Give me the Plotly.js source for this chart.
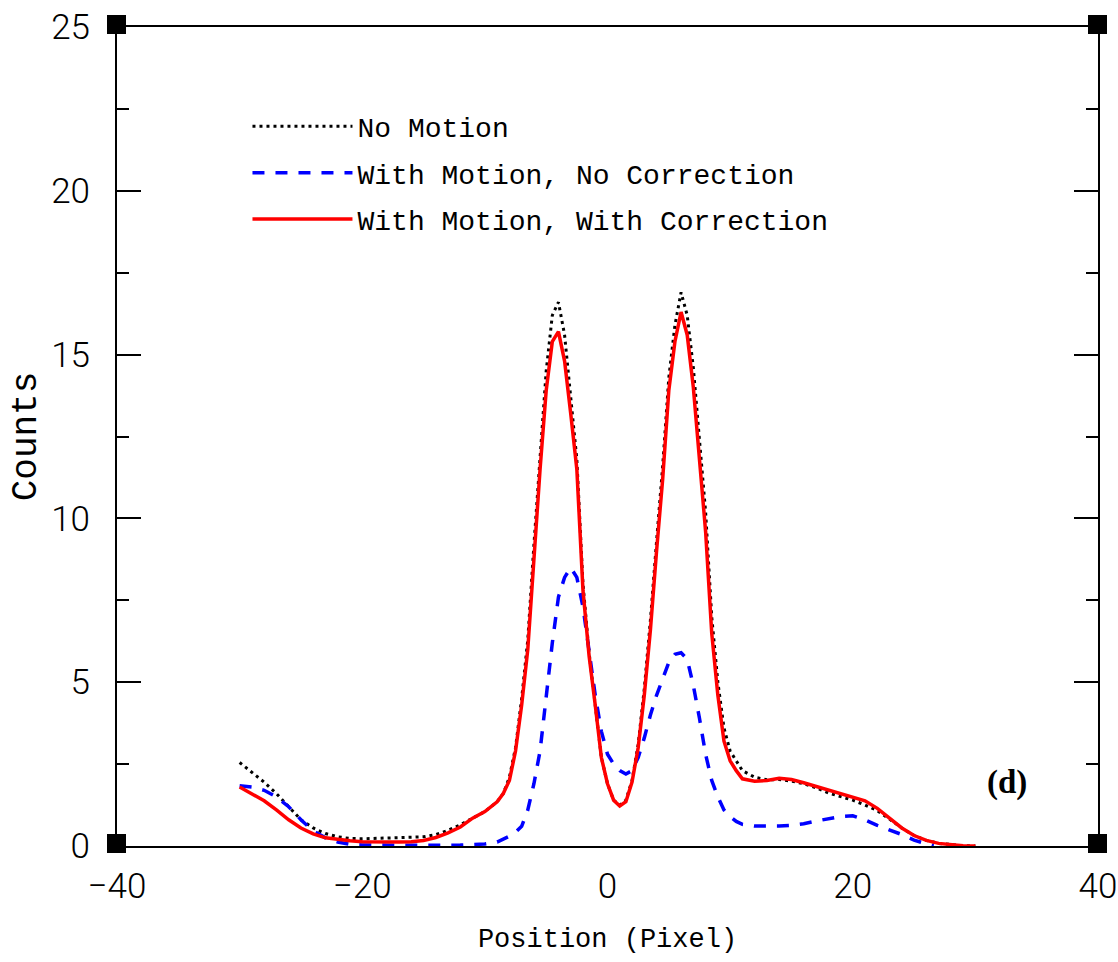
<!DOCTYPE html>
<html>
<head>
<meta charset="utf-8">
<script src="https://cdn.plot.ly/plotly-3.0.1.min.js"></script>
<style>
  html, body { margin: 0; padding: 0; background: #fff; }
  #chart { width: 1118px; height: 962px; }
</style>
</head>
<body>
<div id="chart"></div>
<script>
// ---- Data ----
const seriesNames = ["No Motion", "With Motion, No Correction", "With Motion, With Correction"];

const posMain = [-30,-29,-28,-27,-26,-25,-24,-23,-22,-21,-20,-19,-18,-17,-16,-15,-14,-13,-12,-11,-10,-9,-8.5,-8,-7.5,-7,-6.5,-6,-5.5,-5,-4.5,-4,-3.5,-3,-2.5,-2,-1.5,-1,-0.5,0,0.5,1,1.5,2,2.5,3,3.5,4,4.5,5,5.5,6,6.5,7,7.5,8,8.5,9,9.5,10,10.5,11,12,13,14,15,16,17,18,19,20,21,22,23,24,25,26,27,28,29,30];

const countsNoMotion = [2.55,2.25,1.95,1.6,1.2,0.8,0.55,0.38,0.28,0.23,0.22,0.23,0.24,0.25,0.26,0.28,0.35,0.48,0.65,0.85,1.05,1.35,1.6,2.1,3.0,4.5,6.3,9.2,12.0,14.5,16.2,16.6,15.6,13.8,11.8,8.0,5.9,4.3,2.7,1.9,1.4,1.25,1.4,2.0,3.1,4.8,6.9,9.3,11.6,14.3,15.9,16.9,16.2,14.6,12.4,10.2,7.0,5.0,3.6,2.9,2.6,2.3,2.1,2.02,2.03,1.98,1.9,1.78,1.62,1.5,1.4,1.25,1.08,0.82,0.55,0.32,0.17,0.08,0.04,0.01,0.0];

const countsCorrected = [1.8,1.6,1.38,1.1,0.8,0.55,0.37,0.25,0.2,0.16,0.13,0.12,0.12,0.12,0.13,0.17,0.26,0.4,0.58,0.85,1.05,1.35,1.6,2.0,2.9,4.3,6.0,8.8,11.5,13.9,15.4,15.7,14.8,13.2,11.5,7.8,5.8,4.3,2.7,1.9,1.4,1.22,1.35,1.95,3.0,4.6,6.6,9.0,11.2,13.9,15.4,16.3,15.6,14.0,11.8,9.6,6.5,4.6,3.2,2.6,2.3,2.05,1.98,2.0,2.07,2.03,1.93,1.82,1.7,1.6,1.5,1.38,1.15,0.85,0.55,0.32,0.17,0.08,0.04,0.01,0.0];

const posBlue = [-30,-29,-28,-27,-26,-25,-24,-23,-22,-21,-20,-18,-16,-14,-12,-11,-10,-9,-8.5,-8,-7.5,-7,-6.5,-6,-5.5,-5,-4.5,-4,-3.5,-3,-2.5,-2,-1.5,-1,-0.5,0,0.5,1,1.5,2,2.5,3,3.5,4,4.5,5,5.5,6,6.5,7,7.5,8,8.5,9,9.5,10,10.5,11,12,13,14,15,16,17,18,19,20,21,22,23,24,25,26,26.6];

const countsNoCorrection = [1.84,1.8,1.7,1.5,1.2,0.8,0.46,0.25,0.12,0.05,0.03,0.02,0.02,0.02,0.03,0.04,0.06,0.12,0.21,0.3,0.42,0.6,1.1,1.9,2.9,4.6,6.2,7.6,8.2,8.5,8.2,7.3,6.0,4.6,3.5,2.8,2.5,2.3,2.2,2.3,2.7,3.3,4.0,4.6,5.1,5.6,5.85,5.9,5.7,4.9,3.9,2.8,2.0,1.5,1.1,0.9,0.75,0.66,0.61,0.6,0.61,0.63,0.68,0.76,0.84,0.9,0.92,0.8,0.63,0.5,0.35,0.18,0.06,0.0];

const xTickVals = [-40, -20, 0, 20, 40];
const xTickText = ["\u221240", "\u221220", "0", "20", "40"];
const yTickVals = [0, 5, 10, 15, 20, 25];
const yTickText = ["0", "5", "10", "15", "20", "25"];
const panelLabel = "(d)";

// ---- Traces ----
const traces = [
  {
    x: posMain, y: countsNoMotion, name: seriesNames[0], type: "scatter", mode: "lines",
    line: { color: "#000000", width: 3, dash: "3px,4px" }, legendgroup: "a", cliponaxis: false
  },
  {
    x: posBlue, y: countsNoCorrection, name: seriesNames[1], type: "scatter", mode: "lines",
    line: { color: "#0000ff", width: 3.5, dash: "12px,11px" }, legendgroup: "b", cliponaxis: false
  },
  {
    x: posMain, y: countsCorrected, name: seriesNames[2], type: "scatter", mode: "lines",
    line: { color: "#ff0000", width: 3.5 }, legendgroup: "c", cliponaxis: false
  }
];

const tickFont = { family: "Roboto, Liberation Sans, Arial, sans-serif", size: 35, weight: 300, color: "#000" };
const monoFont = { family: "Liberation Mono, Courier New, monospace", color: "#000" };

function cornerSquare(xp, yp) {
  return {
    type: "rect", xref: "paper", yref: "paper",
    xsizemode: "pixel", ysizemode: "pixel",
    xanchor: xp, yanchor: yp,
    x0: -10, x1: 9, y0: -7, y1: 12,
    fillcolor: "#000", line: { width: 0 }, layer: "above"
  };
}

const layout = {
  width: 1118, height: 962,
  margin: { l: 117, r: 20, t: 27, b: 116 },
  paper_bgcolor: "#ffffff", plot_bgcolor: "#ffffff",
  showlegend: true,
  legend: {
    x: 0.133, y: 0.909, xanchor: "left", yanchor: "top",
    bgcolor: "rgba(0,0,0,0)", borderwidth: 0,
    font: Object.assign({ size: 28 }, monoFont),
    itemwidth: 100, tracegroupgap: 7, traceorder: "grouped"
  },
  xaxis: {
    range: [-40, 40], tickmode: "array", tickvals: xTickVals, ticktext: xTickText,
    ticks: "", showgrid: false, zeroline: false,
    showline: true, linecolor: "#000", linewidth: 2, mirror: true,
    tickfont: tickFont, ticklabelstandoff: 8, ticklabeloverflow: "allow",
    title: { text: "Position (Pixel)", font: Object.assign({ size: 27 }, monoFont), standoff: 22 }
  },
  yaxis: {
    range: [0, 25], tickmode: "array", tickvals: yTickVals, ticktext: yTickText,
    ticks: "inside", ticklen: 24, tickwidth: 2, tickcolor: "#000",
    minor: { dtick: 2.5, ticks: "inside", ticklen: 12, tickwidth: 2, tickcolor: "#000", showgrid: false },
    showgrid: false, zeroline: false,
    showline: true, linecolor: "#000", linewidth: 2, mirror: "ticks",
    tickfont: tickFont, ticklabelstandoff: 18, ticklabeloverflow: "allow",
    title: { text: "Counts", font: Object.assign({ size: 36 }, monoFont), standoff: 4 }
  },
  annotations: [
    {
      text: "<b>" + panelLabel + "</b>", xref: "x", yref: "y", x: 32.6, y: 1.95,
      showarrow: false, font: { family: "Liberation Serif, Times New Roman, serif", size: 33, color: "#000" }
    }
  ],
  shapes: [cornerSquare(0, 0), cornerSquare(1, 0), cornerSquare(0, 1), cornerSquare(1, 1)]
};

Plotly.newPlot("chart", traces, layout, { displayModeBar: false, staticPlot: true });
</script>
</body>
</html>
